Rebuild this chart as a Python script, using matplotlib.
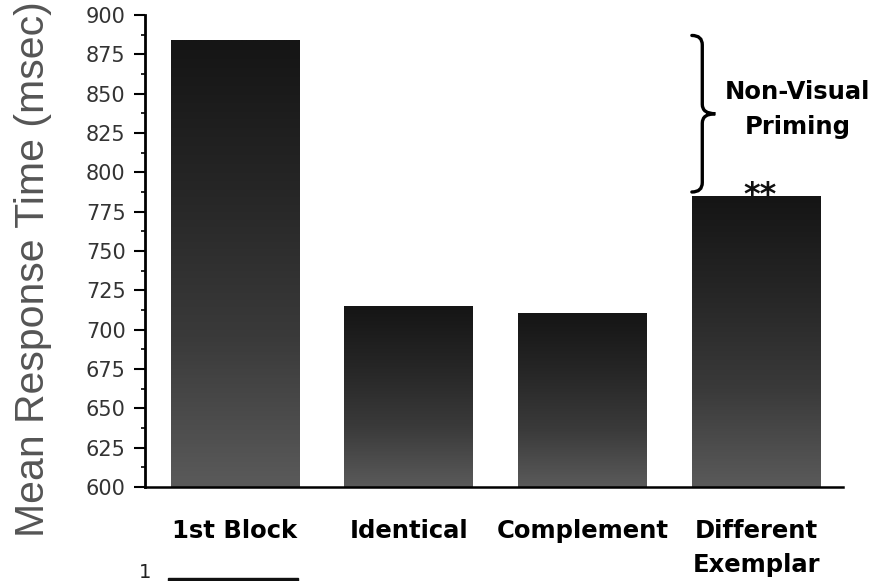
import numpy as np
import matplotlib
matplotlib.use("Agg")
import matplotlib.pyplot as plt
from matplotlib.colors import LinearSegmentedColormap
from matplotlib.path import Path
from matplotlib.patches import PathPatch, Rectangle

conditions = ["1st Block", "Identical", "Complement", "Different\nExemplar"]
rt = [884, 715, 710, 784.5]
yticks = list(range(600, 901, 25))

fig = plt.figure(figsize=(8.76, 5.81), dpi=100)
ax = fig.add_axes([145 / 876, 1 - 487 / 581, 698 / 876, 472 / 581])

x = np.arange(len(conditions))
width = 0.74
cmap = LinearSegmentedColormap.from_list("bar", ["#5a5a5a", "#3a3a3a", "#262626", "#151515"])

bars = ax.bar(x, rt, width=width, bottom=0, color="none", edgecolor="none")
for b in bars:
    x0 = b.get_x()
    top = b.get_height()
    grad = np.linspace(0, 1, 200).reshape(-1, 1)
    ax.imshow(grad, cmap=cmap, origin="lower", aspect="auto",
              extent=(x0, x0 + width, 600, top), zorder=2)

ax.set_xlim(-0.518, 3.50)
ax.set_ylim(600, 900)
ax.set_yticks(yticks)
ax.set_yticks(np.arange(612.5, 900, 25), minor=True)
ax.tick_params(axis="y", which="major", length=8, width=1.5, labelsize=15,
               labelcolor="#333333", pad=6)
ax.tick_params(axis="y", which="minor", length=3, width=1.2)

ax.set_xticks(x)
ax.set_xticklabels(conditions, fontsize=17.5, fontweight="bold", family="DejaVu Sans",
                   va="top", linespacing=1.55)
ax.tick_params(axis="x", length=0, pad=23)

ax.spines["top"].set_visible(False)
ax.spines["right"].set_visible(False)
ax.spines["left"].set_linewidth(2)
ax.spines["bottom"].set_linewidth(1.8)

fig.text(33 / 876, 1 - 269 / 581, "Mean Response Time (msec)", rotation=90,
         ha="center", va="center", family="Liberation Sans", fontsize=29.5,
         color="#555555")

# brace for non-visual priming
bx0, bx1, bxm = 2.63, 2.69, 2.765
ytop, ybot = 887, 787.5
ymid = (ytop + ybot) / 2
verts = [(bx0, ytop), (bx1, ytop), (bx1, ytop - 6),
         (bx1, ymid + 6), (bx1, ymid), (bxm, ymid),
         (bx1, ymid), (bx1, ymid - 6),
         (bx1, ybot + 6), (bx1, ybot), (bx0, ybot)]
codes = [Path.MOVETO, Path.CURVE3, Path.CURVE3,
         Path.LINETO, Path.CURVE3, Path.CURVE3,
         Path.CURVE3, Path.CURVE3,
         Path.LINETO, Path.CURVE3, Path.CURVE3]
ax.add_patch(PathPatch(Path(verts, codes), fill=False, lw=2.4, color="black",
                       clip_on=False, capstyle="round"))
ax.text(3.24, 840, "Non-Visual\nPriming", ha="center", va="center", fontsize=17.5,
        fontweight="bold", family="DejaVu Sans", linespacing=1.55, clip_on=False)
ax.text(3.02, rt[3] - 9, "**", ha="center", va="bottom", fontsize=23,
        fontweight="bold", family="DejaVu Sans", color="#111111", zorder=3)

# cut-off piece of the next panel
fig.text(145 / 876, 1 - 572 / 581, "1", ha="center", va="center", fontsize=14,
         color="#222222")
fig.patches.append(Rectangle((168 / 876, 0), 130 / 876, 3 / 581, transform=fig.transFigure,
                             color="#111111"))

plt.savefig("out.png", dpi=100)
